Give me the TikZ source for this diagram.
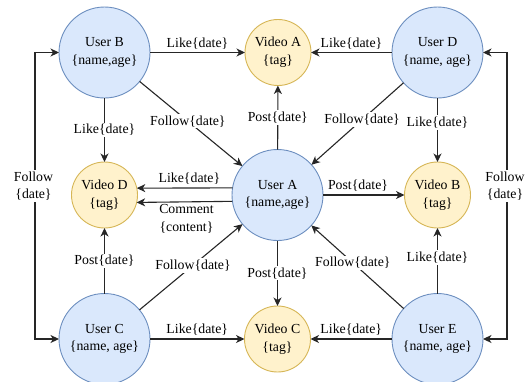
\documentclass[tikz,border=0pt]{standalone}
\usepackage{fontspec}
\setmainfont{Liberation Serif}
\usetikzlibrary{arrows.meta}
\definecolor{userfill}{HTML}{DAE8FC}
\definecolor{userline}{HTML}{6C8EBF}
\definecolor{vidfill}{HTML}{FFF2CC}
\definecolor{vidline}{HTML}{D6B656}
\tikzset{
  user/.style={circle, draw=userline, fill=userfill, line width=0.9pt,
    minimum size=91pt, inner sep=0pt, outer sep=0pt, align=center},
  video/.style={circle, draw=vidline, fill=vidfill, line width=0.9pt,
    minimum size=66pt, inner sep=0pt, outer sep=0pt, align=center},
  arr/.style={draw=black!85, line width=1.1pt,
    -{Stealth[length=8.5pt,width=8pt,inset=2.5pt]}},
  biarr/.style={draw=black!85, line width=1.1pt,
    {Stealth[length=8.5pt,width=8pt,inset=2.5pt]}-{Stealth[length=8.5pt,width=8pt,inset=2.5pt]}},
  onlbl/.style={fill=white, inner sep=1.5pt, align=center},
  toplbl/.style={above=2pt, inner sep=1pt, align=center},
}
\begin{document}
\begin{tikzpicture}[x=1pt, y=-1pt, font=\fontsize{13.8}{17.7}\selectfont]
\useasboundingbox (0,0) rectangle (530,381);

% nodes
\node[user]  (ub) at (104.5, 52.5) {User B\\\{name,age\}};
\node[video] (va) at (278, 52.5)   {Video A\\\{tag\}};
\node[user]  (ud) at (437.5, 52.5) {User D\\\{name, age\}};
\node[video] (vd) at (104.5, 195)  {Video D\\\{tag\}};
\node[user]  (ua) at (277.5, 195)  {User A\\\{name,age\}};
\node[video] (vb) at (437.5, 195)  {Video B\\\{tag\}};
\node[user]  (uc) at (104.5, 339)  {User C\\\{name, age\}};
\node[video] (vc) at (277.5, 339)  {Video C\\\{tag\}};
\node[user]  (ue) at (437.5, 339)  {User E\\\{name, age\}};

% follow loops on both sides
\coordinate (lcor) at (35, 186);
\coordinate (rcor) at (507, 186);
\draw[biarr] (ub.west) -| (lcor) |- (uc.west);
\draw[biarr] (ud.east) -| (rcor) |- (ue.east);
\node[onlbl] (lfl) at (33.5, 186) {Follow\\\{date\}};
\node[onlbl] (rfl) at (505, 186) {Follow\\\{date\}};

% top row
\draw[arr] (ub) -- node[toplbl] {Like\{date\}} (va);
\draw[arr] (ud) -- node[toplbl] {Like\{date\}} (va);

% bottom row
\draw[arr] (uc) -- node[toplbl] {Like\{date\}} (vc);
\draw[arr] (ue) -- node[toplbl] {Like\{date\}} (vc);

% verticals
\draw[arr] (ub) -- node[onlbl] {Like\{date\}} (vd);
\draw[arr] (ud) -- node[onlbl, pos=0.38] {Like\{date\}} (vb);
\draw[arr] (ua) -- node[onlbl] {Post\{date\}} (va);
\draw[arr] (ua) -- node[onlbl] {Post\{date\}} (vc);
\draw[arr] (uc) -- node[onlbl] {Post\{date\}} (vd);
\draw[arr] (ue) -- node[onlbl, pos=0.55] {Like\{date\}} (vb);

% diagonals into User A
\draw[arr] (ub) -- node[onlbl, pos=0.47] {Follow\{date\}} (ua);
\draw[arr] (ud) -- node[onlbl, pos=0.45] {Follow\{date\}} (ua);
\draw[arr] (uc) -- node[onlbl, pos=0.52] {Follow\{date\}} (ua);
\draw[arr] (ue) -- node[onlbl, pos=0.55] {Follow\{date\}} (ua);

% User A to the videos beside it
\draw[arr] (ua) -- node[toplbl, pos=0.43] {Post\{date\}} (vb);
\draw[arr] (ua.171.15) -- node[toplbl, pos=0.45] {Like\{date\}} (vd.12.25);
\draw[arr] (ua.188.85) -- node[below=1pt, inner sep=1pt, align=center, pos=0.48] {Comment\\\{content\}} (vd.347.75);
\end{tikzpicture}
\end{document}
